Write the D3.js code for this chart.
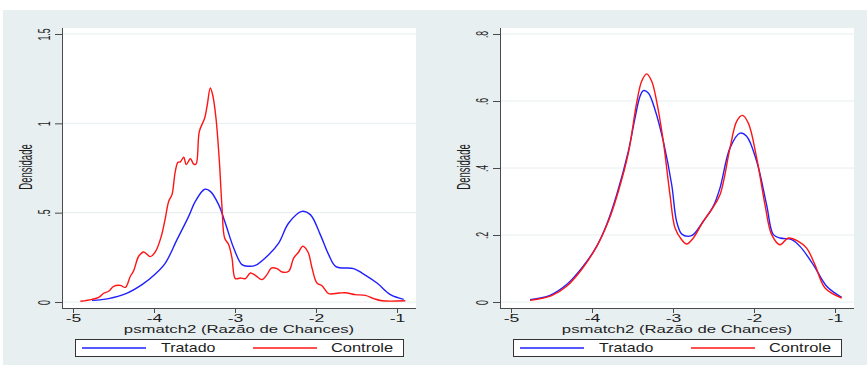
<!DOCTYPE html>
<html><head><meta charset="utf-8">
<script src="https://cdn.jsdelivr.net/npm/d3@7"></script>
<style>
body{margin:0;background:#fff}
svg{display:block}
text{font-family:"Liberation Sans",Arial,sans-serif;fill:#1e1e1e}
</style>
</head><body>
<svg id="c" width="867" height="365"></svg>
<script>
// ---- data ----
const xTicks = [-5, -4, -3, -2, -1];
const xTickLabels = ["-5", "-4", "-3", "-2", "-1"];
const yTicksLeft = [0, 0.5, 1, 1.5];
const yTickLabelsLeft = ["0", ".5", "1", "1.5"];
const yTicksRight = [0, 0.2, 0.4, 0.6, 0.8];
const yTickLabelsRight = ["0", ".2", ".4", ".6", ".8"];
const seriesNames = ["Tratado", "Controle"];
const xTitle = "psmatch2 (Razão de Chances)";
const yTitle = "Densidade";

// Left panel (before matching)
const tratadoAntes = [
  [-4.765,0.009],[-4.56,0.019],[-4.354,0.045],[-4.148,0.097],[-3.984,0.157],[-3.86,0.218],
  [-3.716,0.349],[-3.572,0.479],[-3.49,0.563],[-3.374,0.631],[-3.305,0.619],[-3.202,0.545],
  [-3.12,0.442],[-3.016,0.302],[-2.914,0.209],[-2.831,0.2],[-2.749,0.205],[-2.584,0.265],
  [-2.461,0.33],[-2.337,0.442],[-2.173,0.507],[-2.07,0.489],[-1.947,0.377],[-1.844,0.265],
  [-1.753,0.198],[-1.535,0.187],[-1.432,0.162],[-1.247,0.106],[-1.082,0.041],[-0.918,0.015]
];
const controleAntes = [
  [-4.909,0.004],[-4.765,0.015],[-4.683,0.026],[-4.621,0.049],[-4.56,0.06],[-4.498,0.088],
  [-4.416,0.093],[-4.354,0.082],[-4.292,0.144],[-4.251,0.175],[-4.189,0.256],[-4.128,0.28],
  [-4.045,0.254],[-3.984,0.28],[-3.91,0.368],[-3.86,0.47],[-3.819,0.563],[-3.778,0.601],
  [-3.737,0.731],[-3.704,0.782],[-3.675,0.784],[-3.634,0.81],[-3.601,0.769],[-3.551,0.802],
  [-3.51,0.772],[-3.481,0.772],[-3.44,0.955],[-3.374,1.03],[-3.342,1.104],[-3.305,1.198],
  [-3.276,1.16],[-3.235,1.03],[-3.193,0.787],[-3.16,0.526],[-3.128,0.358],[-3.078,0.321],
  [-3.037,0.246],[-2.996,0.131],[-2.934,0.134],[-2.872,0.131],[-2.811,0.162],[-2.749,0.149],
  [-2.667,0.125],[-2.605,0.153],[-2.551,0.19],[-2.481,0.187],[-2.42,0.168],[-2.337,0.172],
  [-2.276,0.246],[-2.214,0.28],[-2.165,0.312],[-2.099,0.28],[-2.049,0.19],[-1.988,0.106],
  [-1.926,0.091],[-1.844,0.047],[-1.72,0.05],[-1.638,0.052],[-1.514,0.041],[-1.391,0.037],
  [-1.288,0.019],[-1.185,0.007],[-0.897,0.007]
];
// Right panel (after matching)
const tratadoDepois = [
  [-4.765,0.007],[-4.519,0.02],[-4.313,0.052],[-4.128,0.101],[-3.942,0.166],[-3.819,0.231],
  [-3.695,0.32],[-3.551,0.45],[-3.469,0.549],[-3.407,0.614],[-3.366,0.631],[-3.305,0.624],
  [-3.222,0.574],[-3.12,0.48],[-3.016,0.35],[-2.955,0.24],[-2.893,0.203],[-2.811,0.196],
  [-2.749,0.201],[-2.626,0.241],[-2.502,0.286],[-2.42,0.34],[-2.296,0.46],[-2.173,0.504],
  [-2.091,0.495],[-1.967,0.42],[-1.844,0.29],[-1.761,0.201],[-1.679,0.191],[-1.535,0.186],
  [-1.432,0.166],[-1.267,0.111],[-1.103,0.047],[-0.918,0.014]
];
const controleDepois = [
  [-4.765,0.005],[-4.498,0.019],[-4.313,0.047],[-4.128,0.097],[-3.942,0.166],[-3.798,0.241],
  [-3.675,0.33],[-3.551,0.445],[-3.449,0.594],[-3.387,0.659],[-3.325,0.681],[-3.263,0.659],
  [-3.202,0.599],[-3.12,0.48],[-3.037,0.32],[-2.975,0.221],[-2.893,0.186],[-2.831,0.173],
  [-2.749,0.191],[-2.626,0.241],[-2.523,0.276],[-2.42,0.32],[-2.296,0.46],[-2.214,0.539],
  [-2.144,0.557],[-2.07,0.534],[-1.967,0.43],[-1.864,0.29],[-1.782,0.201],[-1.679,0.171],
  [-1.576,0.191],[-1.453,0.181],[-1.35,0.161],[-1.247,0.111],[-1.123,0.042],[-0.918,0.012]
];

// ---- styles ----
const BG = "#e8eff1", GRID = "#e6eef0", AXIS = "#4a4a4a";
const BLUE = "#1f1fff", RED = "#ff1414";

const svg = d3.select("#c");
svg.append("rect").attr("x",3).attr("y",10).attr("width",864).attr("height",355).attr("fill",BG);

function panel(ox, yMax, yTicks, yLabels, tratado, controle) {
  const g = svg.append("g").attr("transform", `translate(${ox},0)`);
  const x = d3.scaleLinear().domain([-5, -1]).range([73, 397]);
  const y = d3.scaleLinear().domain([0, yMax]).range([302, 34]);
  const L = 62, R = 416, T = 28, B = 308;

  g.append("rect").attr("x",L).attr("y",T).attr("width",R-L).attr("height",B-T).attr("fill","#fff");

  // grid
  g.selectAll("line.grid").data(yTicks).join("line").attr("class","grid")
    .attr("x1",L).attr("x2",R).attr("y1",d=>y(d)).attr("y2",d=>y(d))
    .attr("stroke",GRID).attr("stroke-width",1);

  // y axis
  const ya = g.append("g").attr("transform",`translate(${L},0)`)
    .call(d3.axisLeft(y).tickValues(yTicks).tickFormat((d,i)=>yLabels[i]).tickSize(7).tickSizeOuter(0));
  ya.select(".domain").remove();
  ya.selectAll(".tick line").attr("stroke",AXIS);
  ya.selectAll(".tick text")
    .attr("x",null).attr("dy",null).attr("text-anchor","middle")
    .attr("font-size",17).attr("fill","#1e1e1e")
    .attr("transform","translate(-12,0) rotate(-90) scale(0.51,1)");

  // x axis
  const xa = g.append("g").attr("transform",`translate(0,${B})`)
    .call(d3.axisBottom(x).tickValues(xTicks).tickFormat((d,i)=>xTickLabels[i]).tickSize(5).tickSizeOuter(0));
  xa.select(".domain").remove();
  xa.selectAll(".tick line").attr("stroke",AXIS);
  xa.selectAll(".tick text")
    .attr("y",null).attr("dy",null).attr("text-anchor","middle")
    .attr("font-size",11).attr("fill","#1e1e1e")
    .attr("transform","translate(0,14) scale(1.6,1)");

  g.append("line").attr("x1",L+0.5).attr("x2",L+0.5).attr("y1",T).attr("y2",B+0.5).attr("stroke",AXIS);
  g.append("line").attr("x1",L).attr("x2",R).attr("y1",B+0.5).attr("y2",B+0.5).attr("stroke",AXIS);

  // titles
  g.append("text").attr("text-anchor","middle").attr("font-size",11)
    .attr("transform",`translate(${(L+R)/2},333) scale(1.52,1)`).text(xTitle);
  g.append("text").attr("text-anchor","middle").attr("font-size",19)
    .attr("transform",`translate(32,167) rotate(-90) scale(0.5,1)`).text(yTitle);

  // curves
  const line = d3.line().x(d=>x(d[0])).y(d=>y(d[1])).curve(d3.curveCatmullRom.alpha(0.5));
  g.append("path").datum(tratado).attr("d",line).attr("fill","none")
    .attr("stroke",BLUE).attr("stroke-width",1.4).attr("stroke-linejoin","round");
  g.append("path").datum(controle).attr("d",line).attr("fill","none")
    .attr("stroke",RED).attr("stroke-width",1.4).attr("stroke-linejoin","round");

  // legend
  g.append("rect").attr("x",75.5).attr("y",339.5).attr("width",328).attr("height",17)
    .attr("fill","#fff").attr("stroke","#333").attr("stroke-width",1);
  g.append("line").attr("x1",82).attr("x2",146).attr("y1",348).attr("y2",348).attr("stroke",BLUE).attr("stroke-width",1.4);
  g.append("line").attr("x1",253).attr("x2",317).attr("y1",348).attr("y2",348).attr("stroke",RED).attr("stroke-width",1.4);
  g.append("text").attr("font-size",12).attr("transform","translate(161,352) scale(1.33,1)").text(seriesNames[0]);
  g.append("text").attr("font-size",12).attr("transform","translate(331,352) scale(1.37,1)").text(seriesNames[1]);
}

panel(0, 1.5, yTicksLeft, yTickLabelsLeft, tratadoAntes, controleAntes);
panel(438, 0.8, yTicksRight, yTickLabelsRight, tratadoDepois, controleDepois);
</script>
</body></html>
